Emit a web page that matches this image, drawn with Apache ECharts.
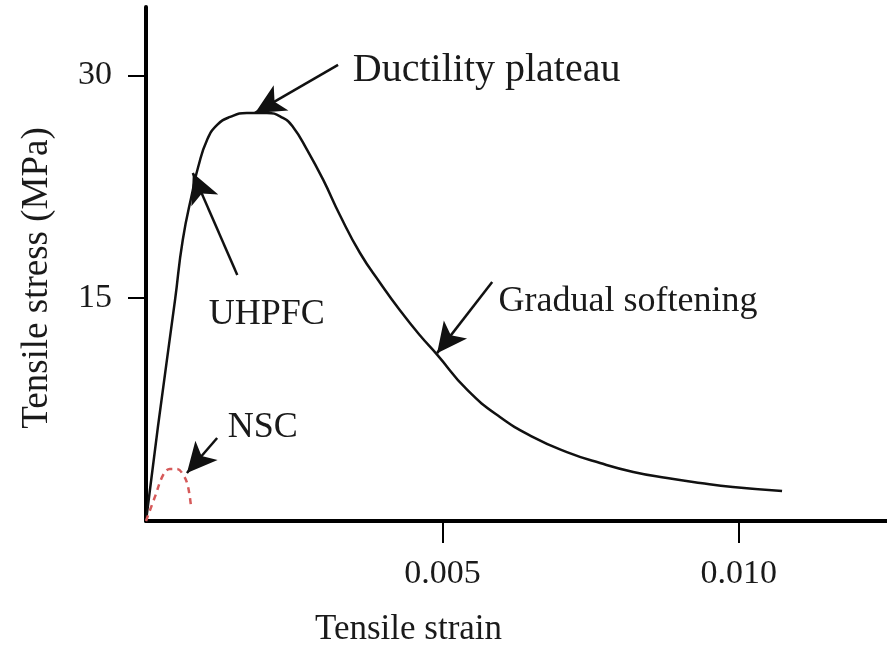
<!DOCTYPE html>
<html>
<head>
<meta charset="utf-8">
<script src="https://cdn.jsdelivr.net/npm/echarts@6.0.0/dist/echarts.min.js"></script>
<style>
  html, body { margin: 0; padding: 0; background: #fff; }
  #main { width: 887px; height: 651px; }
</style>
</head>
<body>
<div id="main"></div>
<script>
// UHPFC tensile curve, strain / stress (MPa)
var uhpfcStrain = [0, 0.0002, 0.00049, 0.00062, 0.00079, 0.00088, 0.00103, 0.0012, 0.00142, 0.0017,
	0.00204, 0.00231, 0.00248, 0.00272, 0.00299, 0.00327, 0.00361, 0.00395, 0.00428, 0.00462,
	0.00491, 0.00542, 0.00597, 0.00653, 0.0071, 0.00766, 0.00822, 0.00879, 0.00935, 0.0099, 0.01073];
var uhpfcStress = [0, 6.3, 14.88, 18.92, 22.28, 23.83, 25.65, 26.66, 27.2, 27.47,
	27.47, 27.13, 26.52, 24.97, 22.96, 20.6, 18.04, 16.02, 14.2, 12.5,
	11.2, 8.82, 7.0, 5.65, 4.64, 3.9, 3.3, 2.89, 2.56, 2.29, 2.02];

// NSC (normal strength concrete)
var nscStrain = [0, 0.00015, 0.00029, 0.0004, 0.00052, 0.00064, 0.00071, 0.00076];
var nscStress = [0, 1.62, 3.1, 3.5, 3.5, 3.03, 2.29, 0.94];

var xTicks = [0.005, 0.010];
var yTicks = [15, 30];

// annotations: text, where the text starts, arrow tail -> arrow tip
var noteText = ['Ductility plateau', 'UHPFC', 'Gradual softening', 'NSC'];
var noteAt = [[0.00348, 30.3], [0.00105, 13.93], [0.00594, 14.74], [0.00137, 6.26]];
var noteTail = [[0.00324, 30.7], [0.00154, 16.56], [0.00584, 16.09], [0.0012, 5.59]];
var noteTip = [[0.00184, 27.47], [0.00079, 23.43], [0.00491, 11.3], [0.00069, 3.23]];

function pairs(xs, ys){
	var out = [];
	for(var i = 0; i < xs.length; i++){
		out.push([xs[i], ys[i]]);
	}
	return out;
}

var font = '"Liberation Serif", "Times New Roman", serif';
var ink = '#1a1a1a';

var chart = echarts.init(document.getElementById('main'));

var option = {
	backgroundColor: '#fff',
	animation: false,
	grid: { left: 146, right: 0, top: 7, bottom: 130 },
	xAxis: {
		type: 'value',
		min: 0,
		max: 0.0125,
		axisLine: { onZero: false, lineStyle: { color: '#000', width: 4 } },
		axisTick: { show: true, customValues: xTicks, length: 22, lineStyle: { color: '#000', width: 2 } },
		axisLabel: {
			customValues: xTicks,
			margin: 36,
			fontSize: 34,
			fontFamily: font,
			color: ink,
			formatter: function(v){ return v.toFixed(3); }
		},
		splitLine: { show: false }
	},
	yAxis: {
		type: 'value',
		min: 0,
		max: 34.6,
		axisLine: { show: true, lineStyle: { color: '#000', width: 4 } },
		axisTick: { show: true, customValues: yTicks, length: 18, lineStyle: { color: '#000', width: 2 } },
		axisLabel: {
			customValues: yTicks,
			margin: 34,
			fontSize: 34,
			fontFamily: font,
			color: ink
		},
		splitLine: { show: false }
	},
	graphic: [
		{
			type: 'text',
			left: 315,
			top: 612,
			style: { text: 'Tensile strain', font: '35px ' + font, fill: ink }
		},
		{
			type: 'text',
			x: 37,
			y: 278,
			rotation: Math.PI / 2,
			style: { text: 'Tensile stress (MPa)', font: '37px ' + font, fill: ink, align: 'center', verticalAlign: 'middle' }
		}
	],
	series: [
		{
			name: 'UHPFC',
			type: 'line',
			data: pairs(uhpfcStrain, uhpfcStress),
			showSymbol: false,
			smooth: 0.5,
			silent: true,
			lineStyle: { color: '#111', width: 2.5 },
			markLine: {
				silent: true,
				symbol: ['none', 'arrow'],
				symbolSize: [22, 30],
				lineStyle: { color: '#111', width: 2.5, type: 'solid' },
				itemStyle: { color: '#111' },
				label: { show: false },
				data: noteTail.map(function(t, i){
					return [{ coord: t }, { coord: noteTip[i] }];
				})
			},
			markPoint: {
				silent: true,
				symbol: 'circle',
				symbolSize: 1,
				itemStyle: { color: 'rgba(0,0,0,0)' },
				label: {
					show: true,
					position: 'right',
					distance: 0,
					fontSize: 36,
					fontFamily: font,
					color: ink,
					formatter: function(p){ return p.name; }
				},
				data: noteText.map(function(t, i){
					var item = { name: t, coord: noteAt[i] };
					if(i === 0){
						item.label = { fontSize: 40 };
					}
					return item;
				})
			}
		},
		{
			name: 'NSC',
			type: 'line',
			data: pairs(nscStrain, nscStress),
			showSymbol: false,
			smooth: 0.4,
			silent: true,
			lineStyle: { color: '#d65a5a', width: 2.5, type: [6, 5] }
		}
	]
};

chart.setOption(option);
</script>
</body>
</html>
